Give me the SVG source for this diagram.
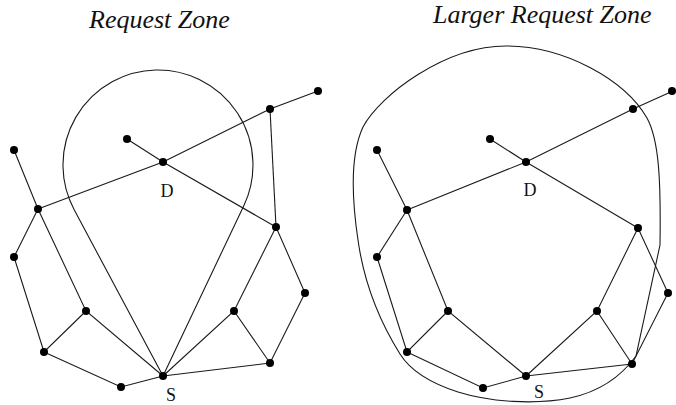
<svg xmlns="http://www.w3.org/2000/svg" width="676" height="405" viewBox="0 0 676 405">
<style>
.e{stroke:#1a1a1a;stroke-width:1.1;fill:none}
.z{stroke:#1a1a1a;stroke-width:1.1;fill:none}
.n{fill:#000}
.lbl{font-family:"Liberation Serif","Times New Roman",serif;font-size:18px;fill:#111;text-anchor:middle}
.ttl{font-family:"Liberation Serif","Times New Roman",serif;font-style:italic;font-size:26px;fill:#111}
</style>
<rect width="676" height="405" fill="#fff"/>
<text class="ttl" x="89" y="28">Request Zone</text>
<text class="ttl" x="433" y="23">Larger Request Zone</text>
<g id="zones">
<path class="z" d="M163,376 L74.2,209.8 A95,95 0 1 1 243.8,205.7 Z"/>
<path class="z" d="M506,46 C565,46 625,80 647,118 C659,140 661,180 660,245 L636,356 C620,378 598,392 570,398 C535,405 490,402 458,392 C430,383 410,370 400,354 C385,330 365,290 358,240 C352,200 350,155 363,127 C380,95 445,46 506,46 Z"/>
</g>
<g id="connectors">
<path class="e" d="M14,150 L38,209 L86,311 L163,376"/>
<path class="e" d="M38,209 L163,162 L270,109 L318,91"/>
<path class="e" d="M127,139 L163,162 L276,227"/>
<path class="e" d="M270,109 L276,227"/>
<path class="e" d="M38,209 L14,257 L44,352 L86,311"/>
<path class="e" d="M44,352 L121,387 L163,376"/>
<path class="e" d="M163,376 L234,311 L276,227 L305,293 L270,363 L234,311"/>
<path class="e" d="M163,376 L270,363"/>
<path class="e" d="M377,150 L407,210 L448,311 L526,376"/>
<path class="e" d="M407,210 L526,162 L633,109 L673,91"/>
<path class="e" d="M490,139 L526,162 L638,228"/>
<path class="e" d="M407,210 L377,257 L407,352 L448,311"/>
<path class="e" d="M407,352 L483,388 L526,376"/>
<path class="e" d="M526,376 L597,311 L638,228 L668,293 L632,364 L597,311"/>
<path class="e" d="M526,376 L632,364"/>
</g>
<g id="nodes-left">
<g id="L-A"><circle class="n" cx="14" cy="150" r="4"/></g>
<g id="L-B"><circle class="n" cx="38" cy="209" r="4"/></g>
<g id="L-C"><circle class="n" cx="14" cy="257" r="4"/></g>
<g id="L-E"><circle class="n" cx="86" cy="311" r="4"/></g>
<g id="L-F"><circle class="n" cx="44" cy="352" r="4"/></g>
<g id="L-G"><circle class="n" cx="121" cy="387" r="4"/></g>
<g id="L-S"><circle class="n" cx="163" cy="376" r="4"/><text class="lbl" x="171" y="401">S</text></g>
<g id="L-D"><circle class="n" cx="163" cy="162" r="4"/><text class="lbl" x="167" y="197">D</text></g>
<g id="L-DL"><circle class="n" cx="127" cy="139" r="4"/></g>
<g id="L-TR"><circle class="n" cx="270" cy="109" r="4"/></g>
<g id="L-TL"><circle class="n" cx="318" cy="91" r="4"/></g>
<g id="L-R1"><circle class="n" cx="276" cy="227" r="4"/></g>
<g id="L-R2"><circle class="n" cx="305" cy="293" r="4"/></g>
<g id="L-R3"><circle class="n" cx="234" cy="311" r="4"/></g>
<g id="L-R4"><circle class="n" cx="270" cy="363" r="4"/></g>
</g>
<g id="nodes-right">
<g id="R-A"><circle class="n" cx="377" cy="150" r="4"/></g>
<g id="R-B"><circle class="n" cx="407" cy="210" r="4"/></g>
<g id="R-C"><circle class="n" cx="377" cy="257" r="4"/></g>
<g id="R-E"><circle class="n" cx="448" cy="311" r="4"/></g>
<g id="R-F"><circle class="n" cx="407" cy="352" r="4"/></g>
<g id="R-G"><circle class="n" cx="483" cy="388" r="4"/></g>
<g id="R-S"><circle class="n" cx="526" cy="376" r="4"/><text class="lbl" x="539" y="398">S</text></g>
<g id="R-D"><circle class="n" cx="526" cy="162" r="4"/><text class="lbl" x="530" y="196">D</text></g>
<g id="R-DL"><circle class="n" cx="490" cy="139" r="4"/></g>
<g id="R-TR"><circle class="n" cx="633" cy="109" r="4"/></g>
<g id="R-TL"><circle class="n" cx="672" cy="91" r="4"/></g>
<g id="R-R1"><circle class="n" cx="638" cy="228" r="4"/></g>
<g id="R-R2"><circle class="n" cx="668" cy="293" r="4"/></g>
<g id="R-R3"><circle class="n" cx="597" cy="311" r="4"/></g>
<g id="R-R4"><circle class="n" cx="632" cy="364" r="4"/></g>
</g>
</svg>
